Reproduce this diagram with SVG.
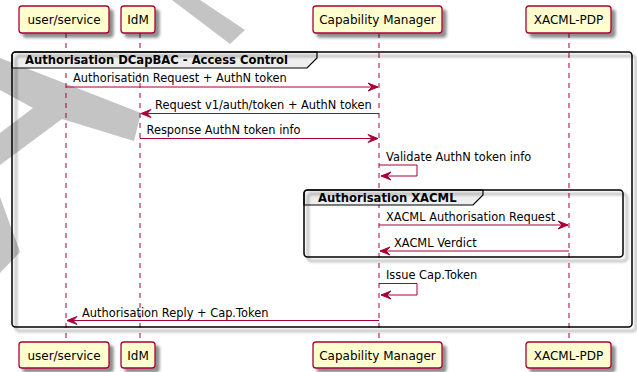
<svg xmlns="http://www.w3.org/2000/svg" width="637" height="372" viewBox="0 0 637 372">
<style>
.wm{fill:#C4C4C4;stroke:none}
.pbox{fill:#FEFECE;stroke:#A80036;stroke-width:1.3}
.ptxt{font-family:"DejaVu Sans",sans-serif;font-size:12px;fill:#000;text-anchor:middle}
.life{stroke:#A80036;stroke-width:1;stroke-dasharray:5,5;fill:none}
.msg{stroke:#A80036;stroke-width:1;fill:none}
.mtxt{font-family:"DejaVu Sans",sans-serif;font-size:11.4px;fill:#000}
.ftitle{font-family:"DejaVu Sans",sans-serif;font-size:11.6px;font-weight:bold;fill:#000}
.frame{fill:none;stroke:#000;stroke-width:1.5}
.tab{fill:#EEEEEE;stroke:#000;stroke-width:1.2}
</style>
<defs>
<filter id="sh" x="-10%" y="-10%" width="130%" height="140%">
<feGaussianBlur in="SourceAlpha" stdDeviation="1.7"/>
<feOffset dx="3.5" dy="3.5" result="b"/>
<feComponentTransfer><feFuncA type="linear" slope="0.45"/></feComponentTransfer>
<feMerge><feMergeNode/><feMergeNode in="SourceGraphic"/></feMerge>
</filter>
<marker id="ah" markerUnits="userSpaceOnUse" markerWidth="10" markerHeight="8" refX="10" refY="4" orient="auto" overflow="visible">
<path d="M0,0 L10,4 L0,8 L4,4 Z" fill="#A80036" stroke="#A80036" stroke-width="1"/>
</marker>
</defs>
<rect width="637" height="372" fill="#FFFFFF"/>
<g id="watermark">
<polygon class="wm" points="172,0 200,0 245,30 230,44"/>
<polygon class="wm" points="0,58 141,113 134,141 62,119 0,165 0,133 33,108 0,90"/>
<polygon class="wm" points="0,197 20,252 0,273"/>
</g>
<g id="lifelines">
<line class="life" x1="66" y1="33" x2="66" y2="342"/>
<line class="life" x1="140" y1="33" x2="140" y2="342"/>
<line class="life" x1="379" y1="33" x2="379" y2="342"/>
<line class="life" x1="569" y1="33" x2="569" y2="342"/>
</g>
<g id="frame-dcapbac">
<path class="tab" d="M12,68 V55.5 Q12,52 15.5,52 H317 V58 L307,68 Z"/>
<rect class="frame" x="12" y="52" width="620" height="275" rx="3.5" filter="url(#sh)"/>
<text class="ftitle" x="25" y="64">Authorisation DCapBAC - Access Control</text>
</g>
<g id="frame-xacml">
<path class="tab" d="M304,205 V193.5 Q304,190 307.5,190 H483 V195 L473,205 Z"/>
<rect class="frame" x="304" y="190" width="319" height="67" rx="3.5" filter="url(#sh)"/>
<text class="ftitle" x="318" y="202">Authorisation XACML</text>
</g>
<g id="p-user-top"><rect class="pbox" x="19" y="6" width="90" height="27" rx="3" filter="url(#sh)"/><text class="ptxt" x="64" y="24">user/service</text></g>
<g id="p-idm-top"><rect class="pbox" x="121" y="6" width="34" height="27" rx="3" filter="url(#sh)"/><text class="ptxt" x="138" y="24">IdM</text></g>
<g id="p-cm-top"><rect class="pbox" x="313" y="6" width="129" height="27" rx="3" filter="url(#sh)"/><text class="ptxt" x="377.5" y="24">Capability Manager</text></g>
<g id="p-pdp-top"><rect class="pbox" x="526" y="6" width="85" height="27" rx="3" filter="url(#sh)"/><text class="ptxt" x="568.5" y="24">XACML-PDP</text></g>
<g id="p-user-bot"><rect class="pbox" x="19" y="342" width="90" height="26" rx="3" filter="url(#sh)"/><text class="ptxt" x="64" y="360">user/service</text></g>
<g id="p-idm-bot"><rect class="pbox" x="121" y="342" width="34" height="26" rx="3" filter="url(#sh)"/><text class="ptxt" x="138" y="360">IdM</text></g>
<g id="p-cm-bot"><rect class="pbox" x="313" y="342" width="129" height="26" rx="3" filter="url(#sh)"/><text class="ptxt" x="377.5" y="360">Capability Manager</text></g>
<g id="p-pdp-bot"><rect class="pbox" x="526" y="342" width="85" height="26" rx="3" filter="url(#sh)"/><text class="ptxt" x="568.5" y="360">XACML-PDP</text></g>
<g id="connectors">
<line class="msg" x1="66" y1="87" x2="378" y2="87" marker-end="url(#ah)"/>
<text class="mtxt" x="73" y="82">Authorisation Request + AuthN token</text>
<line class="msg" x1="379" y1="113.5" x2="141" y2="113.5" marker-end="url(#ah)"/>
<text class="mtxt" x="155" y="109">Request v1/auth/token + AuthN token</text>
<line class="msg" x1="140" y1="138.5" x2="378" y2="138.5" marker-end="url(#ah)"/>
<text class="mtxt" x="146.5" y="134">Response AuthN token info</text>
<path class="msg" d="M379,165 H417 V176 H381" marker-end="url(#ah)"/>
<text class="mtxt" x="386" y="160.5">Validate AuthN token info</text>
<line class="msg" x1="379" y1="225" x2="568" y2="225" marker-end="url(#ah)"/>
<text class="mtxt" x="386" y="220.5">XACML Authorisation Request</text>
<line class="msg" x1="569" y1="251" x2="380" y2="251" marker-end="url(#ah)"/>
<text class="mtxt" x="394" y="246.5">XACML Verdict</text>
<path class="msg" d="M379,283.5 H417 V295 H381" marker-end="url(#ah)"/>
<text class="mtxt" x="386" y="278.5">Issue Cap.Token</text>
<line class="msg" x1="379" y1="320.5" x2="67" y2="320.5" marker-end="url(#ah)"/>
<text class="mtxt" x="82" y="316.5">Authorisation Reply + Cap.Token</text>
</g>
</svg>
